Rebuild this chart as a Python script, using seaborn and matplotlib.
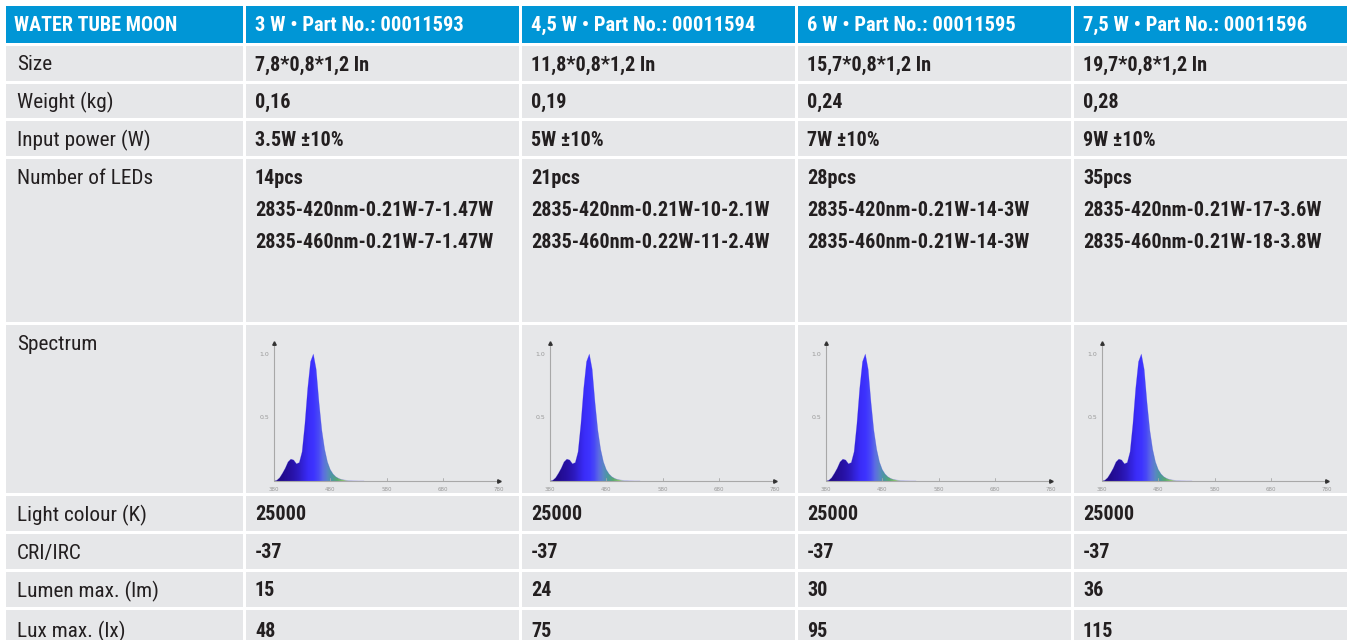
import numpy as np
import pandas as pd
import matplotlib
matplotlib.use("Agg")
import matplotlib.pyplot as plt
from matplotlib import font_manager
from matplotlib.colors import LinearSegmentedColormap
import seaborn as sns

# ---------------- data ----------------
header = ["WATER TUBE MOON",
          "3 W \u2022 Part No.: 00011593",
          "4,5 W \u2022 Part No.: 00011594",
          "6 W \u2022 Part No.: 00011595",
          "7,5 W \u2022 Part No.: 00011596"]
row_labels = ["Size", "Weight (kg)", "Input power (W)", "Number of LEDs", "Spectrum",
              "Light colour (K)", "CRI/IRC", "Lumen max. (lm)", "Lux max. (lx)"]
sizes = ["7,8*0,8*1,2 In", "11,8*0,8*1,2 In", "15,7*0,8*1,2 In", "19,7*0,8*1,2 In"]
weights = ["0,16", "0,19", "0,24", "0,28"]
input_power = ["3.5W \u00b110%", "5W \u00b110%", "7W \u00b110%", "9W \u00b110%"]
led_counts = ["14pcs", "21pcs", "28pcs", "35pcs"]
led_420 = ["2835-420nm-0.21W-7-1.47W", "2835-420nm-0.21W-10-2.1W",
           "2835-420nm-0.21W-14-3W", "2835-420nm-0.21W-17-3.6W"]
led_460 = ["2835-460nm-0.21W-7-1.47W", "2835-460nm-0.22W-11-2.4W",
           "2835-460nm-0.21W-14-3W", "2835-460nm-0.21W-18-3.8W"]
light_colour = ["25000", "25000", "25000", "25000"]
cri = ["-37", "-37", "-37", "-37"]
lumen = ["15", "24", "30", "36"]
lux = ["48", "75", "95", "115"]

# spectrum (relative intensity vs wavelength nm)
wavelength = [380, 385, 390, 395, 400, 405, 410, 415, 420, 425, 430, 435, 440, 445,
              450, 455, 460, 465, 470, 475, 480, 485, 490, 495, 500, 505, 510, 515,
              520, 525, 530, 540]
intensity = [0.0, 0.005, 0.025, 0.06, 0.10, 0.15, 0.172, 0.165, 0.135, 0.145, 0.23, 0.45,
             0.73, 0.94, 1.0, 0.88, 0.62, 0.40, 0.25, 0.15, 0.09, 0.055, 0.033, 0.02,
             0.012, 0.008, 0.005, 0.003, 0.0015, 0.0008, 0.0, 0.0]
x_ticks = [380, 480, 580, 680, 780]

# ---------------- style ----------------
sns.set_theme(style="white")
available = {f.name for f in font_manager.fontManager.ttflist}
font_main = "DejaVu Sans"
for cand in ["Roboto Condensed", "Archivo Narrow", "PT Sans Narrow",
             "Liberation Sans Narrow", "Sofia Sans Condensed", "Barlow Semi Condensed"]:
    if cand in available:
        font_main = cand
        break
plt.rcParams['font.family'] = [font_main, 'DejaVu Sans']

W, H = 1351, 640
fig = plt.figure(figsize=(W / 100, H / 100), dpi=100)
fig.patch.set_facecolor("white")
ax = fig.add_axes([0, 0, 1, 1])
ax.set_xlim(0, W)
ax.set_ylim(H, 0)
ax.axis("off")
renderer = fig.canvas.get_renderer()


def fit_size(sample, target_px, weight):
    t = ax.text(0, 0, sample, fontsize=10, fontweight=weight)
    w = t.get_window_extent(renderer).width
    t.remove()
    return 10 * target_px / w


FS_LAB = fit_size("Number of LEDs", 136, "normal")
FS_VAL = fit_size("2835-420nm-0.21W-7-1.47W", 240, "bold")
FS_HEAD = fit_size("3 W \u2022 Part No.: 00011593", 209, "bold")
FS_HEAD0 = fit_size("WATER TUBE MOON", 163, "bold")

BLUE = "#0096D6"
GREY = "#E6E7E9"
TXT = "#231F20"

cols = [(6, 243), (246, 519), (522, 795), (798, 1071), (1074, 1347)]
rows = [(6, 43), (46, 81), (84, 118), (121, 156), (159, 322), (325, 493),
        (496, 531), (534, 569), (572, 607), (610, 650)]

for ri, (t, b) in enumerate(rows):
    for (l, r) in cols:
        ax.add_patch(plt.Rectangle((l, t), r - l, b - t,
                                   facecolor=BLUE if ri == 0 else GREY,
                                   edgecolor="none", zorder=0))

# header
for ci, txt in enumerate(header):
    l, r = cols[ci]
    t, b = rows[0]
    ax.text(l + (8 if ci == 0 else 9), (t + b) / 2 + 1, txt, color="white",
            fontsize=FS_HEAD0 if ci == 0 else FS_HEAD, fontweight="bold",
            va="center", ha="left")

# row labels
for ri, lab in enumerate(row_labels):
    t, b = rows[ri + 1]
    if lab in ("Number of LEDs", "Spectrum"):
        y = t + 19
    else:
        y = (t + b) / 2 + 1.5
    ax.text(17, y, lab, color=TXT, fontsize=FS_LAB, va="center", ha="left")

simple_rows = {1: sizes, 2: weights, 3: input_power, 6: light_colour,
               7: cri, 8: lumen, 9: lux}
for ri, vals in simple_rows.items():
    t, b = rows[ri]
    for ci, v in enumerate(vals):
        l, r = cols[ci + 1]
        ax.text(l + 9, (t + b) / 2 + 1.5, v, color=TXT, fontsize=FS_VAL,
                fontweight="bold", va="center", ha="left")

t, b = rows[4]
for ci in range(4):
    l, r = cols[ci + 1]
    for k, v in enumerate([led_counts[ci], led_420[ci], led_460[ci]]):
        ax.text(l + 9, t + 19 + k * 32.5, v, color=TXT, fontsize=FS_VAL,
                fontweight="bold", va="center", ha="left")

# spectrum colour map (position = (wavelength-380)/400)
cmap = LinearSegmentedColormap.from_list("spec", [
    (0.0, "#1e0878"), (0.04, "#220c90"), (0.08, "#2812a8"), (0.11, "#2e1cc4"),
    (0.13, "#3424e0"), (0.15, "#3a2cf8"), (0.175, "#3e34ff"), (0.195, "#4848f6"),
    (0.215, "#5c6ae4"), (0.235, "#5a86c4"), (0.255, "#4c98a0"), (0.28, "#58aa70"),
    (0.305, "#8cc46c"), (0.33, "#d8ead0"), (0.36, "#eceee8"), (1.0, "#e6e7e9")])

spec_df = pd.DataFrame({"wavelength": wavelength, "intensity": intensity})
sp_t, sp_b = 343, 481
for ci in range(4):
    l, r = cols[ci + 1]
    x0 = l + 28
    x1 = l + 253
    sax = fig.add_axes([x0 / W, 1 - sp_b / H, (x1 - x0) / W, (sp_b - sp_t) / H])
    sax.set_xlim(380, 780)
    ymax = 1.087
    sax.set_ylim(0, ymax)
    sax.patch.set_alpha(0)
    for s in sax.spines.values():
        s.set_visible(False)
    sax.set_xticks([])
    sax.set_yticks([])
    poly = sax.fill_between(spec_df["wavelength"], 0, spec_df["intensity"],
                            facecolor="none", edgecolor="none")
    grad = np.linspace(0, 1, 800).reshape(1, -1)
    im = sax.imshow(grad, extent=(380, 780, 0, ymax), aspect="auto",
                    cmap=cmap, origin="lower", zorder=2)
    im.set_clip_path(poly.get_paths()[0], transform=sax.transData)
    sns.lineplot(data=spec_df, x="wavelength", y="intensity", ax=sax,
                 color="#3a30f0", linewidth=0.4, alpha=0.35, zorder=3)
    sax.set_xlabel("")
    sax.set_ylabel("")
    ac = "#a8a8a8"
    sax.plot([380, 780], [0, 0], color=ac, lw=0.8, zorder=4, clip_on=False)
    sax.plot([380, 380], [0, ymax], color=ac, lw=0.8, zorder=4, clip_on=False)
    sax.plot([780], [0], marker=">", color="#333333", ms=2.5, clip_on=False, zorder=5)
    sax.plot([380], [ymax], marker="^", color="#333333", ms=2.5, clip_on=False, zorder=5)
    for xt in x_ticks:
        if xt not in (380, 780):
            sax.plot([xt, xt], [0, 0.02], color=ac, lw=0.6, clip_on=False)
        sax.text(xt, -0.05, str(xt), fontsize=4, color="#999999",
                 ha="center", va="top", family="DejaVu Sans")
    for yv, lab in [(1.0, "1.0"), (0.5, "0.5")]:
        sax.text(372, yv, lab, fontsize=4.5, color="#999999", ha="right",
                 va="center", family="DejaVu Sans")

fig.savefig("out.png", dpi=100, facecolor="white")
